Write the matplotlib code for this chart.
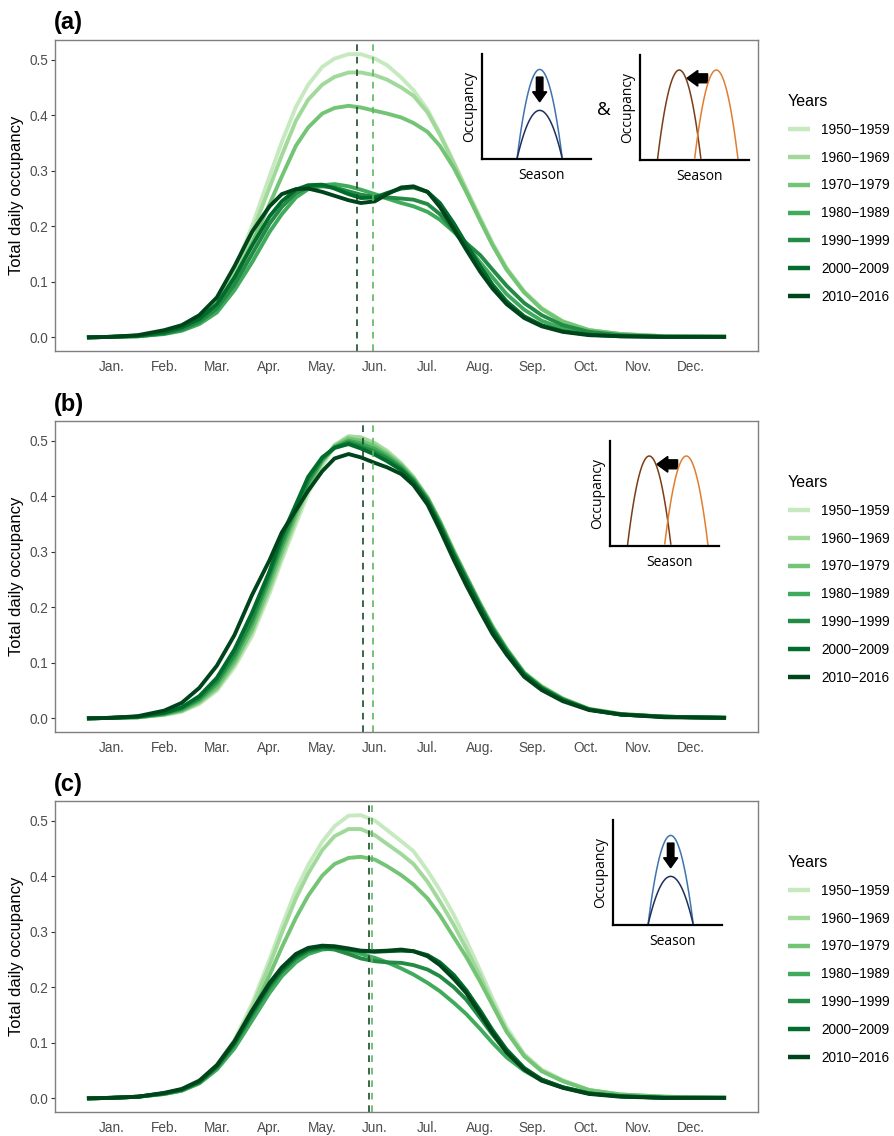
import numpy as np
import matplotlib
matplotlib.use("Agg")
import matplotlib.pyplot as plt

plt.rcParams['font.family'] = ['Liberation Sans', 'DejaVu Sans']

W, H = 894, 1136

days = [1, 15, 30, 45, 55, 65, 75, 85, 95, 105, 112, 120, 127, 135, 142,
        150, 157, 165, 172, 180, 187, 195, 202, 210, 217, 225, 232, 240, 250, 260,
        272, 287, 305, 330, 365]

years = ['1950\u22121959', '1960\u22121969', '1970\u22121979', '1980\u22121989',
         '1990\u22121999', '2000\u22122009', '2010\u22122016']
colors = ['#c7e9c0', '#a1d99b', '#74c476', '#41ab5d', '#238b45', '#006d2c', '#00441b']

month_ticks = [15, 45, 75, 105, 135, 165, 195, 225, 255, 285, 315, 345]
month_labels = ['Jan.', 'Feb.', 'Mar.', 'Apr.', 'May.', 'Jun.', 'Jul.', 'Aug.',
                'Sep.', 'Oct.', 'Nov.', 'Dec.']

# (a) decline + shift
occ_a = [
    [0, 0.001, 0.003, 0.008, 0.016, 0.033, 0.066, 0.122, 0.2, 0.29, 0.352, 0.415, 0.455, 0.487, 0.502,
     0.51, 0.51, 0.502, 0.49, 0.468, 0.445, 0.41, 0.368, 0.315, 0.268, 0.215, 0.17, 0.125, 0.083, 0.053,
     0.029, 0.013, 0.006, 0.002, 0.001],
    [0, 0.001, 0.003, 0.008, 0.016, 0.032, 0.063, 0.115, 0.188, 0.27, 0.328, 0.39, 0.428, 0.455, 0.469,
     0.477, 0.477, 0.472, 0.464, 0.45, 0.435, 0.405, 0.365, 0.313, 0.266, 0.213, 0.168, 0.124, 0.082, 0.052,
     0.029, 0.013, 0.006, 0.002, 0.001],
    [0, 0.001, 0.003, 0.008, 0.015, 0.03, 0.058, 0.105, 0.17, 0.24, 0.29, 0.345, 0.378, 0.403, 0.413,
     0.417, 0.414, 0.408, 0.403, 0.396, 0.386, 0.37, 0.345, 0.305, 0.262, 0.21, 0.166, 0.122, 0.081, 0.051,
     0.028, 0.013, 0.006, 0.002, 0.001],
    [0, 0.001, 0.002, 0.006, 0.012, 0.024, 0.045, 0.085, 0.135, 0.19, 0.222, 0.252, 0.267, 0.274, 0.276,
     0.272, 0.266, 0.258, 0.25, 0.242, 0.236, 0.226, 0.212, 0.19, 0.166, 0.135, 0.108, 0.078, 0.05, 0.03,
     0.016, 0.007, 0.003, 0.001, 0.001],
    [0, 0.001, 0.002, 0.007, 0.014, 0.028, 0.052, 0.095, 0.15, 0.205, 0.235, 0.26, 0.27, 0.272, 0.27,
     0.263, 0.257, 0.253, 0.252, 0.25, 0.248, 0.24, 0.222, 0.192, 0.17, 0.148, 0.122, 0.093, 0.062, 0.04,
     0.022, 0.01, 0.004, 0.001, 0.001],
    [0, 0.001, 0.003, 0.009, 0.018, 0.033, 0.06, 0.108, 0.165, 0.218, 0.245, 0.266, 0.274, 0.275, 0.268,
     0.258, 0.251, 0.252, 0.26, 0.268, 0.27, 0.262, 0.242, 0.205, 0.168, 0.128, 0.095, 0.065, 0.038, 0.022,
     0.011, 0.005, 0.002, 0.001, 0.001],
    [0, 0.001, 0.004, 0.013, 0.022, 0.04, 0.072, 0.128, 0.19, 0.236, 0.258, 0.267, 0.268, 0.262, 0.255,
     0.247, 0.242, 0.245, 0.258, 0.27, 0.272, 0.262, 0.235, 0.195, 0.158, 0.118, 0.088, 0.06, 0.035, 0.02,
     0.01, 0.004, 0.002, 0.001, 0.001],
]

# (b) shift only
occ_b = [
    [0, 0.001, 0.002, 0.006, 0.012, 0.026, 0.05, 0.092, 0.148, 0.225, 0.285, 0.35, 0.405, 0.455, 0.49,
     0.505, 0.506, 0.496, 0.482, 0.46, 0.435, 0.398, 0.355, 0.3, 0.255, 0.205, 0.165, 0.125, 0.082, 0.058,
     0.036, 0.017, 0.008, 0.003, 0.001],
    [0, 0.001, 0.002, 0.007, 0.013, 0.028, 0.053, 0.097, 0.155, 0.232, 0.292, 0.358, 0.412, 0.46, 0.492,
     0.508, 0.506, 0.495, 0.48, 0.458, 0.434, 0.398, 0.356, 0.302, 0.257, 0.207, 0.166, 0.126, 0.083, 0.058,
     0.036, 0.017, 0.008, 0.003, 0.001],
    [0, 0.001, 0.002, 0.007, 0.014, 0.03, 0.056, 0.101, 0.16, 0.24, 0.3, 0.365, 0.418, 0.463, 0.49,
     0.504, 0.5, 0.49, 0.476, 0.456, 0.432, 0.397, 0.355, 0.3, 0.256, 0.206, 0.165, 0.125, 0.082, 0.057,
     0.035, 0.017, 0.008, 0.003, 0.001],
    [0, 0.001, 0.002, 0.008, 0.016, 0.033, 0.062, 0.108, 0.17, 0.25, 0.31, 0.372, 0.423, 0.465, 0.488,
     0.5, 0.495, 0.485, 0.472, 0.453, 0.43, 0.395, 0.352, 0.298, 0.254, 0.204, 0.163, 0.124, 0.081, 0.056,
     0.035, 0.016, 0.007, 0.003, 0.001],
    [0, 0.001, 0.003, 0.009, 0.018, 0.036, 0.067, 0.115, 0.178, 0.258, 0.318, 0.378, 0.428, 0.468, 0.488,
     0.497, 0.49, 0.48, 0.468, 0.45, 0.428, 0.393, 0.35, 0.296, 0.252, 0.202, 0.161, 0.122, 0.08, 0.055,
     0.034, 0.016, 0.007, 0.003, 0.001],
    [0, 0.001, 0.003, 0.01, 0.02, 0.04, 0.073, 0.124, 0.19, 0.265, 0.328, 0.385, 0.435, 0.47, 0.487,
     0.494, 0.486, 0.475, 0.463, 0.447, 0.425, 0.39, 0.347, 0.293, 0.249, 0.2, 0.159, 0.12, 0.079, 0.054,
     0.033, 0.016, 0.007, 0.003, 0.001],
    [0, 0.001, 0.004, 0.014, 0.028, 0.055, 0.095, 0.15, 0.222, 0.285, 0.335, 0.375, 0.41, 0.445, 0.468,
     0.476, 0.47, 0.46, 0.452, 0.44, 0.42, 0.385, 0.34, 0.285, 0.24, 0.192, 0.152, 0.115, 0.075, 0.051,
     0.031, 0.015, 0.007, 0.002, 0.001],
]

# (c) decline only
occ_c = [
    [0, 0.001, 0.003, 0.008, 0.014, 0.03, 0.06, 0.105, 0.17, 0.25, 0.31, 0.375, 0.42, 0.462, 0.49,
     0.509, 0.51, 0.5, 0.483, 0.463, 0.445, 0.41, 0.375, 0.33, 0.285, 0.23, 0.18, 0.128, 0.08, 0.052,
     0.033, 0.015, 0.007, 0.003, 0.001],
    [0, 0.001, 0.003, 0.008, 0.014, 0.029, 0.058, 0.1, 0.163, 0.24, 0.298, 0.36, 0.405, 0.447, 0.472,
     0.485, 0.485, 0.474, 0.458, 0.44, 0.422, 0.39, 0.355, 0.312, 0.27, 0.22, 0.172, 0.122, 0.078, 0.05,
     0.032, 0.015, 0.007, 0.003, 0.001],
    [0, 0.001, 0.003, 0.008, 0.014, 0.028, 0.055, 0.095, 0.152, 0.222, 0.272, 0.325, 0.365, 0.401, 0.422,
     0.433, 0.435, 0.43, 0.418, 0.402, 0.385, 0.36, 0.33, 0.29, 0.255, 0.21, 0.168, 0.12, 0.076, 0.049,
     0.031, 0.015, 0.007, 0.003, 0.001],
    [0, 0.001, 0.003, 0.008, 0.014, 0.027, 0.052, 0.09, 0.14, 0.19, 0.22, 0.245, 0.26, 0.268, 0.27,
     0.266, 0.26, 0.253, 0.245, 0.234, 0.223, 0.208, 0.193, 0.172, 0.152, 0.125, 0.1, 0.074, 0.05, 0.032,
     0.02, 0.009, 0.004, 0.001, 0.001],
    [0, 0.001, 0.003, 0.009, 0.015, 0.029, 0.056, 0.097, 0.15, 0.2, 0.228, 0.252, 0.265, 0.27, 0.268,
     0.26, 0.252, 0.247, 0.245, 0.244, 0.24, 0.232, 0.22, 0.2, 0.178, 0.145, 0.115, 0.083, 0.053, 0.034,
     0.02, 0.009, 0.004, 0.001, 0.001],
    [0, 0.001, 0.003, 0.009, 0.016, 0.03, 0.058, 0.1, 0.155, 0.205, 0.232, 0.256, 0.268, 0.273, 0.272,
     0.268, 0.265, 0.264, 0.265, 0.266, 0.265, 0.258, 0.245, 0.222, 0.195, 0.158, 0.123, 0.088, 0.055, 0.034,
     0.02, 0.009, 0.004, 0.001, 0.001],
    [0, 0.001, 0.003, 0.01, 0.017, 0.032, 0.06, 0.103, 0.158, 0.208, 0.236, 0.26, 0.271, 0.275, 0.274,
     0.27, 0.266, 0.265, 0.266, 0.268, 0.265, 0.256, 0.24, 0.215, 0.19, 0.152, 0.118, 0.083, 0.052, 0.032,
     0.019, 0.008, 0.003, 0.001, 0.001],
]

# peak dates (first / last decade), dashed lines
peak_a = [163.7, 154.6]
peak_b = [163.9, 158.4]
peak_c = [163.5, 161.6]


def px_box(x0, x1, ytop, ybot):
    return [x0 / W, 1 - ybot / H, (x1 - x0) / W, (ybot - ytop) / H]


def draw_panel(top, occ, peaks, tag):
    ax = fig.add_axes(px_box(55, 758, top, top + 311))
    for vals, col, lab in zip(occ, colors, years):
        ax.plot(days, vals, color=col, lw=2.8, label=lab,
                solid_joinstyle='round', solid_capstyle='butt')
    ax.axvline(peaks[0], color='#5cb85f', lw=1.2, ls=(0, (4, 3.5)))
    ax.axvline(peaks[1], color='#1d4a2a', lw=1.2, ls=(0, (4, 3.5)))
    ax.set_xlim(-17.2, 383.2)
    ax.set_ylim(-0.0245, 0.5355)
    ax.set_yticks([0, 0.1, 0.2, 0.3, 0.4, 0.5])
    ax.set_yticklabels(['0.0', '0.1', '0.2', '0.3', '0.4', '0.5'])
    ax.set_xticks(month_ticks)
    ax.set_xticklabels(month_labels)
    ax.tick_params(axis='y', length=3, width=0.8, color='#333333', labelsize=9.8,
                   labelcolor='#4d4d4d', pad=2)
    ax.tick_params(axis='x', length=0, labelsize=9.8, labelcolor='#4d4d4d', pad=6.5)
    for s in ax.spines.values():
        s.set_color('#7f7f7f')
        s.set_linewidth(1.0)
    ax.set_ylabel('Total daily occupancy', fontsize=12, labelpad=4)
    fig.text(54 / W, 1 - (top - 17) / H, tag, fontsize=17, fontweight='bold',
             ha='left', va='center')
    leg = ax.legend(loc='upper left', bbox_to_anchor=(781 / W, 1 - (top + 47) / H),
                    bbox_transform=fig.transFigure, frameon=False, title='Years',
                    fontsize=9.8, title_fontsize=11.5, handlelength=1.6,
                    handletextpad=0.85, labelspacing=1.02, borderpad=0,
                    alignment='left')
    for ln in leg.get_lines():
        ln.set_linewidth(3.2)
    return ax


def sketch(x0, ytop, kind):
    w, h = 109, 105
    ax = fig.add_axes(px_box(x0, x0 + w, ytop, ytop + h))
    ax.set_xlim(0, 1)
    ax.set_ylim(0, 1)
    for k in ['top', 'right']:
        ax.spines[k].set_visible(False)
    for k in ['left', 'bottom']:
        ax.spines[k].set_linewidth(1.6)
    ax.set_xticks([])
    ax.set_yticks([])
    ax.patch.set_alpha(0)
    xx = np.linspace(0, 1, 200)
    if kind == 'decline':
        c, hw = 0.529, 0.208
        for top_y, col in [(0.853, '#3f73b0'), (0.463, '#1f2e5c')]:
            m = np.abs(xx - c) <= hw
            ax.plot(xx[m], top_y * (1 - ((xx[m] - c) / hw) ** 2), color=col, lw=1.1)
        ax.arrow(0.529, 0.78, 0, -0.14, width=0.06, head_width=0.13, head_length=0.095,
                 fc='black', ec='black')
    else:
        for c, col in [(0.36, '#7b3d17'), (0.70, '#e27d2e')]:
            hw = 0.2
            m = np.abs(xx - c) <= hw
            ax.plot(xx[m], 0.857 * (1 - ((xx[m] - c) / hw) ** 2), color=col, lw=1.1)
        ax.arrow(0.62, 0.778, -0.09, 0, width=0.085, head_width=0.15, head_length=0.1,
                 fc='black', ec='black')
    ax.text(-0.115, 0.5, 'Occupancy', rotation=90, ha='center', va='center',
            fontsize=10, family=['Open Sans', 'DejaVu Sans'], transform=ax.transAxes)
    ax.text(0.55, -0.16, 'Season', ha='center', va='center', fontsize=10,
            family=['Open Sans', 'DejaVu Sans'], transform=ax.transAxes)
    return ax


fig = plt.figure(figsize=(W / 100, H / 100), dpi=100)

draw_panel(40, occ_a, peak_a, '(a)')
draw_panel(421, occ_b, peak_b, '(b)')
draw_panel(801, occ_c, peak_c, '(c)')

sketch(482, 54, 'decline')
fig.text(604 / W, 1 - 110 / H, '&', fontsize=13.5, ha='center', va='center',
         family=['Open Sans', 'DejaVu Sans'])
sketch(640, 55, 'shift')
sketch(610, 441, 'shift')
sketch(613, 820, 'decline')

fig.savefig('out.png', dpi=100)
